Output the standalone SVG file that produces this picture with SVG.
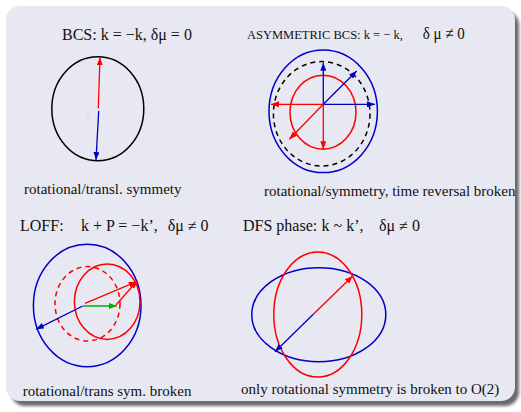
<svg xmlns="http://www.w3.org/2000/svg" width="521" height="412" viewBox="0 0 521 412">
<defs>
<filter id="blur" x="-5%" y="-5%" width="110%" height="110%"><feGaussianBlur stdDeviation="1.5"/></filter>
<marker id="ar" markerWidth="9" markerHeight="6" refX="8" refY="3" orient="auto" markerUnits="userSpaceOnUse"><path d="M0,0 L8,3 L0,6 z" fill="#ff0000"/></marker>
<marker id="ab" markerWidth="9" markerHeight="6" refX="8" refY="3" orient="auto" markerUnits="userSpaceOnUse"><path d="M0,0 L8,3 L0,6 z" fill="#0000c0"/></marker>
<marker id="ag" markerWidth="9" markerHeight="6" refX="8" refY="3" orient="auto" markerUnits="userSpaceOnUse"><path d="M0,0 L8,3 L0,6 z" fill="#00b000"/></marker>
</defs>
<style>
text{font-family:"Liberation Serif","Times New Roman",serif;fill:#111}
.t{font-size:16px}
.c{font-size:15px}
.e{fill:none;stroke-width:1.5}
.k{stroke:#000}
.r{stroke:#ff0000}
.b{stroke:#0000c8}
.d{stroke-dasharray:5,4}
.ar{stroke:#ff0000;stroke-width:1.3;fill:none;marker-end:url(#ar)}
.ab{stroke:#0000c0;stroke-width:1.3;fill:none;marker-end:url(#ab)}
.ag{stroke:#00b000;stroke-width:1.3;fill:none;marker-end:url(#ag)}
</style>
<rect x="0" y="0" width="521" height="412" fill="#ffffff"/>
<rect x="11" y="11" width="508" height="395" rx="14" fill="#6a6a6a" filter="url(#blur)"/>
<rect x="6" y="6" width="509" height="395" rx="14" fill="#e8e8f2"/>

<g id="bcs">
<text class="t" x="62" y="40">BCS: k = −k, δμ = 0</text>
<ellipse class="e k" cx="97.8" cy="108.8" rx="46" ry="52"/>
<circle cx="88" cy="117" r="0.5" fill="#777"/>
<text class="c" x="24" y="194">rotational/transl. symmety</text>
</g>
<g id="asym">
<text x="247" y="38.5" style="font-size:12.5px">ASYMMETRIC BCS: k = − k,</text>
<text x="422.7" y="39" style="font-size:17px" textLength="42" lengthAdjust="spacingAndGlyphs">δ μ ≠ 0</text>
<ellipse class="e b" cx="323.2" cy="111.3" rx="54.2" ry="61.3"/>
<ellipse class="e k d" cx="321.7" cy="113.8" rx="48.3" ry="52.2"/>
<ellipse class="e r" cx="323" cy="112.2" rx="33" ry="37"/>
<text class="c" x="264" y="196">rotational/symmetry, time reversal broken</text>
</g>
<g id="loff">
<text class="t" x="20" y="231">LOFF:</text>
<text class="t" x="81" y="231">k + P = −k’,</text>
<text class="t" x="167.7" y="231">δμ ≠ 0</text>
<ellipse class="e b" cx="87.2" cy="305.5" rx="53.8" ry="61.2"/>
<ellipse class="e r d" cx="87.5" cy="303.8" rx="32.5" ry="37.2"/>
<ellipse class="e r" cx="107.2" cy="301.7" rx="32.8" ry="37.7"/>
<text class="c" x="22.7" y="396">rotational/trans sym. broken</text>
</g>
<g id="dfs">
<text class="t" x="243" y="231">DFS phase:</text>
<text class="t" x="321.5" y="231">k ~ k’,</text>
<text class="t" x="379" y="231">δμ ≠ 0</text>
<ellipse class="e b" cx="318.8" cy="314.7" rx="67" ry="47"/>
<ellipse class="e r" cx="317.8" cy="314.5" rx="44" ry="62.5"/>
<text class="c" x="241" y="393.7">only rotational symmetry is broken to O(2)</text>
</g>

<g id="connectors">
<line class="ar" x1="98.3" y1="108.3" x2="100" y2="57.3"/>
<line class="ab" x1="98.7" y1="111" x2="96" y2="160"/>

<line class="ab" x1="323.3" y1="104.3" x2="323.3" y2="62.7"/>
<line class="ab" x1="323.3" y1="104.3" x2="375" y2="104.3"/>
<line class="ab" x1="323.3" y1="104.3" x2="356.7" y2="71"/>
<line class="ar" x1="323.3" y1="104.3" x2="271" y2="104.3"/>
<line class="ar" x1="323.3" y1="104.3" x2="323.3" y2="149.3"/>
<line class="ar" x1="323.3" y1="104.3" x2="289.3" y2="139.3"/>

<line class="ab" x1="82.7" y1="306" x2="36" y2="329.3"/>
<line class="ag" x1="83.3" y1="306" x2="116.7" y2="306"/>
<line class="ar" x1="85" y1="303.3" x2="136.7" y2="281.7"/>
<line class="ar" x1="116" y1="305" x2="137.3" y2="280.7"/>

<line class="ar" x1="313.3" y1="314.3" x2="352.7" y2="276"/>
<line class="ab" x1="313.3" y1="314.3" x2="275" y2="351.7"/>
</g>
</svg>
